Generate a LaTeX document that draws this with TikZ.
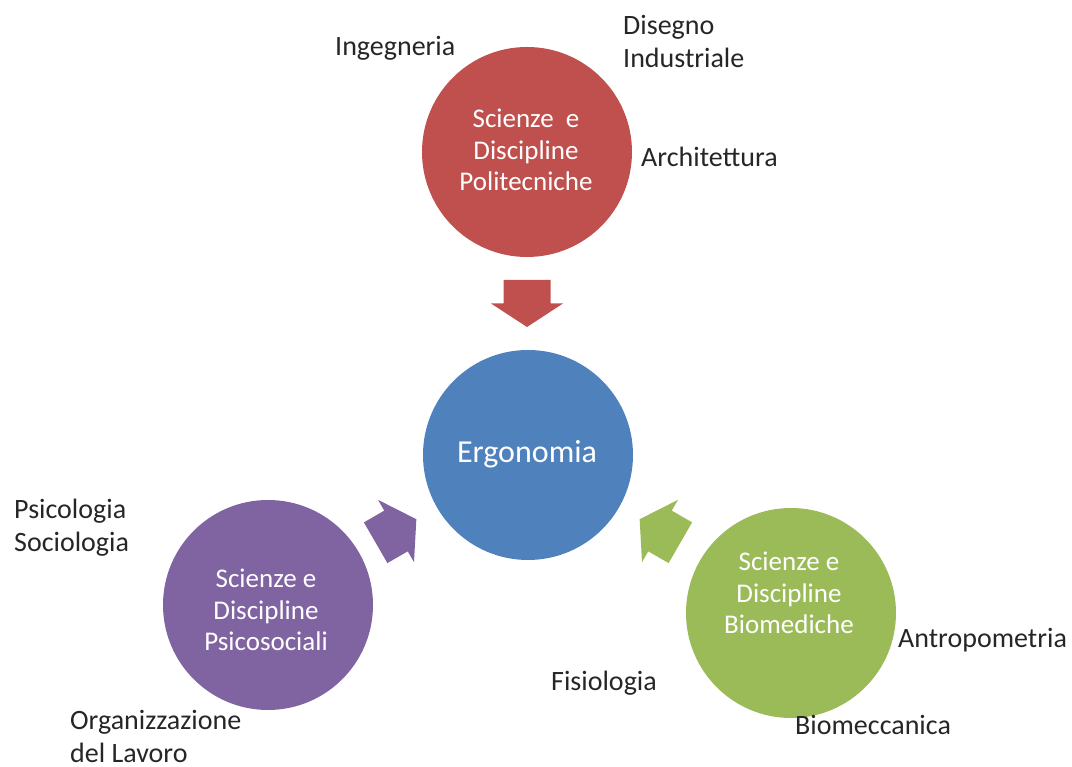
\documentclass[tikz,border=0pt]{standalone}
\usepackage{fontspec}
\setmainfont{Carlito}
\begin{document}
\begin{tikzpicture}[x=1pt,y=1pt,
  disc/.style={circle, minimum size=210pt, inner sep=0pt, draw=none},
  disctext/.style={text=white, align=center, font=\fontsize{27}{31.5}\selectfont},
  field/.style={anchor=west, inner sep=0pt, align=left, text=black!85,
                font=\fontsize{28}{33}\selectfont},
]
\definecolor{cred}{HTML}{C0504D}
\definecolor{cblue}{HTML}{4F81BD}
\definecolor{cpurple}{HTML}{8064A2}
\definecolor{cgreen}{HTML}{9BBB59}
\useasboundingbox (0,0) rectangle (1072,767);

% the four disciplines
\node (poli)  [disc, fill=cred]    at (527,615) {};
\node (ergo)  [disc, fill=cblue]   at (528,312) {};
\node (psico) [disc, fill=cpurple] at (268,162) {};
\node (bio)   [disc, fill=cgreen]  at (791,154) {};

\node (poliT)  [disctext] at (526,617) {Scienze~ e\\Discipline\\Politecniche};
\node (ergoT)  [disctext, font=\fontsize{32}{38}\selectfont] at (527,313) {Ergonomia};
\node (psicoT) [disctext] at (266,157) {Scienze e\\Discipline\\Psicosociali};
\node (bioT)   [disctext] at (789,174) {Scienze e\\Discipline\\Biomediche};

% block arrows pointing into the central disc
\foreach \name/\col/\cx/\cy/\ang in {aPoli/cred/527/463.5/-90, aPsico/cpurple/396/236/30, aBio/cgreen/660/236/150}{
  \coordinate (\name) at (\cx,\cy);
  \fill[\col, shift={(\name)}, rotate=\ang]
    (-23.5,-23.5) -- (0,-23.5) -- (0,-36) -- (23.5,0) -- (0,36) -- (0,23.5) -- (-23.5,23.5) -- cycle;
}

% related fields
\node (ing)   [field] at (335,719)   {Ingegneria};
\node (dis)   [field] at (623,725.5) {Disegno\\Industriale};
\node (arch)  [field] at (641,610)   {Architettura};
\node (psi)   [field] at (14,239.5)  {Psicologia\\Sociologia};
\node (org)   [field] at (70,30.5)   {Organizzazione\\del Lavoro};
\node (fis)   [field] at (551,84)    {Fisiologia};
\node (antr)  [field] at (898,127)   {Antropometria};
\node (biom)  [field] at (795,42)    {Biomeccanica};
\end{tikzpicture}
\end{document}
